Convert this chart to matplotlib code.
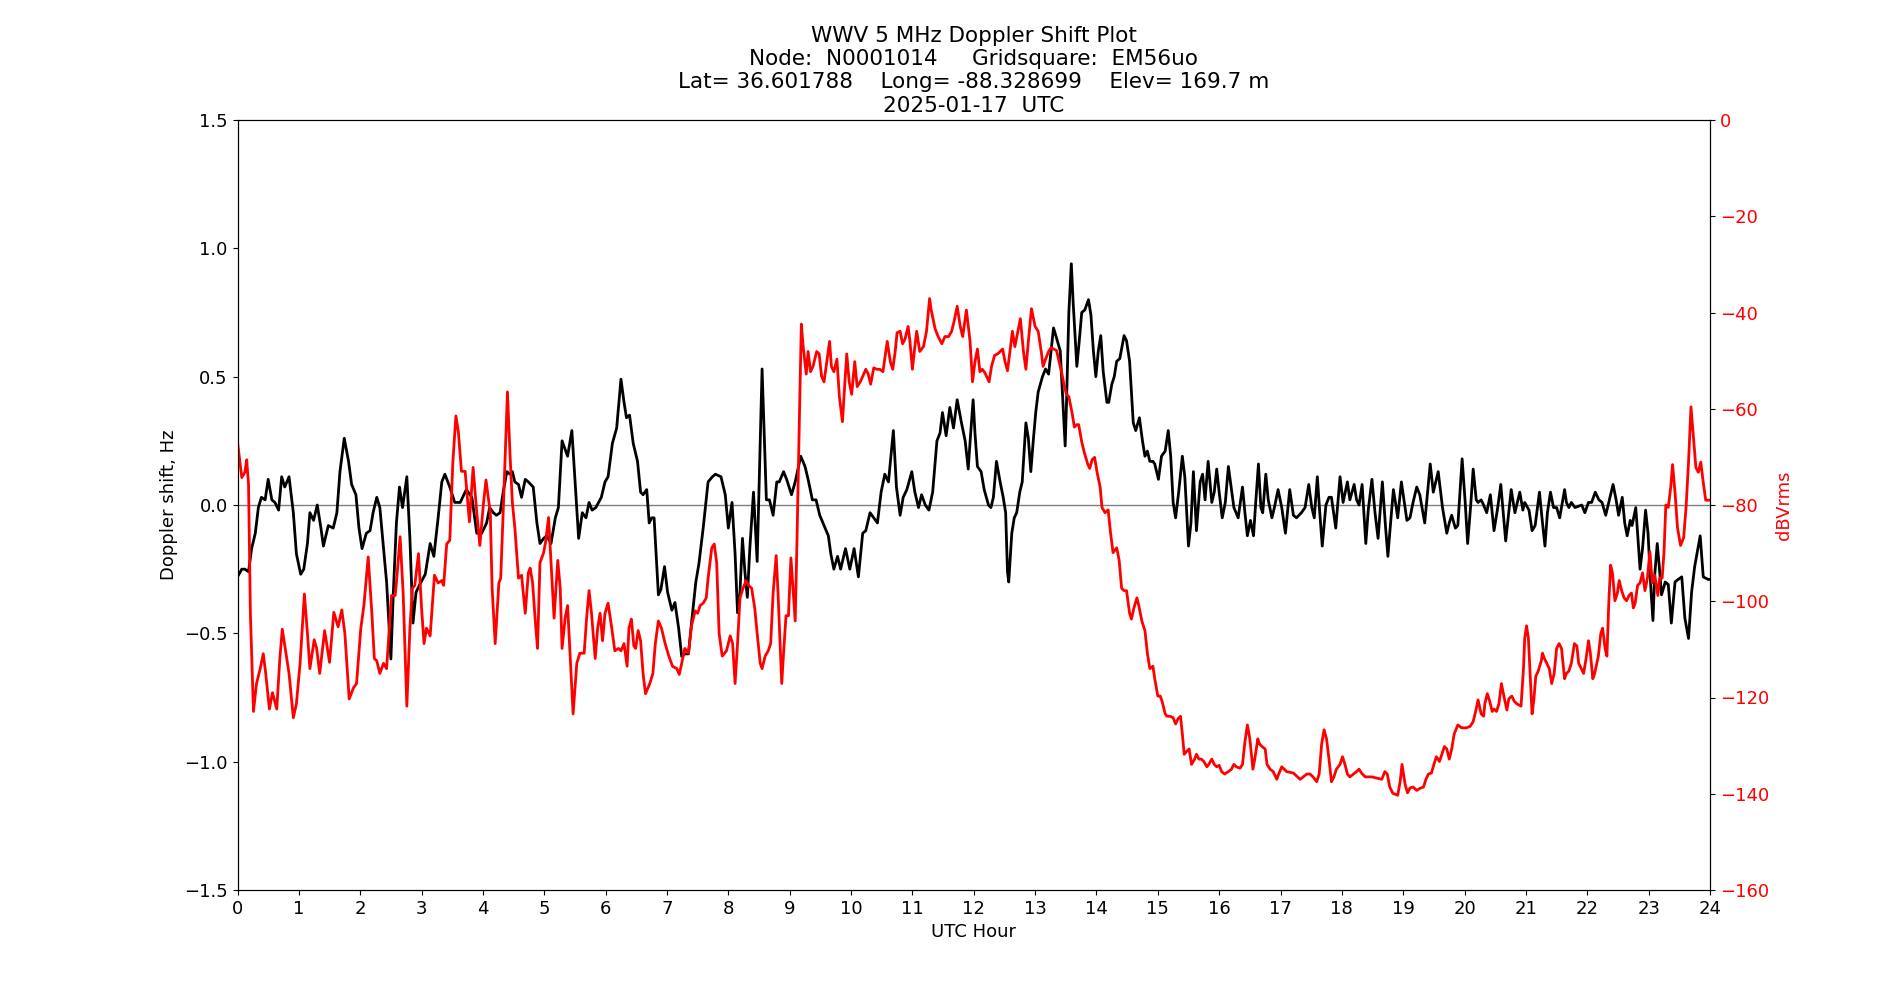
"""
WWV 5 MHz 多普勒频移绘图脚本

左轴为多普勒频移 (Hz)，右轴为接收电平 (dBVrms)
"""
import matplotlib
matplotlib.use('Agg')
import matplotlib.pyplot as plt

plt.rcParams['font.family'] = ['DejaVu Sans']

# 多普勒频移 (黑线)，UTC 小时 / Hz
doppler_hours = [
    0.00, 0.07, 0.12, 0.18, 0.23, 0.29, 0.34, 0.39, 0.45, 0.50, 0.56, 0.61, 0.67, 0.72, 0.77, 0.84,
    0.91, 0.96, 1.03, 1.08, 1.14, 1.18, 1.24, 1.30, 1.36, 1.40, 1.48, 1.56, 1.62, 1.67, 1.74, 1.81,
    1.86, 1.93, 1.98, 2.03, 2.10, 2.16, 2.21, 2.27, 2.32, 2.38, 2.43, 2.50, 2.54, 2.59, 2.64, 2.69,
    2.76, 2.81, 2.86, 2.91, 2.97, 3.06, 3.14, 3.20, 3.27, 3.33, 3.38, 3.46, 3.54, 3.63, 3.73, 3.82,
    3.90, 3.98, 4.06, 4.11, 4.17, 4.22, 4.28, 4.33, 4.39, 4.44, 4.48, 4.52, 4.58, 4.63, 4.69, 4.74,
    4.82, 4.88, 4.93, 4.99, 5.04, 5.11, 5.18, 5.23, 5.29, 5.38, 5.45, 5.56, 5.62, 5.68, 5.73, 5.78,
    5.84, 5.93, 5.99, 6.04, 6.11, 6.18, 6.25, 6.30, 6.34, 6.39, 6.45, 6.52, 6.57, 6.61, 6.67, 6.71,
    6.75, 6.79, 6.86, 6.90, 6.96, 7.01, 7.08, 7.13, 7.19, 7.24, 7.29, 7.35, 7.40, 7.47, 7.52, 7.59,
    7.67, 7.74, 7.79, 7.88, 7.95, 8.00, 8.06, 8.11, 8.15, 8.19, 8.23, 8.27, 8.31, 8.35, 8.41, 8.47,
    8.55, 8.62, 8.67, 8.73, 8.79, 8.83, 8.90, 8.95, 9.03, 9.09, 9.18, 9.25, 9.30, 9.37, 9.43, 9.49,
    9.56, 9.63, 9.67, 9.72, 9.78, 9.83, 9.91, 9.98, 10.05, 10.12, 10.19, 10.24, 10.31, 10.37, 10.43, 10.49,
    10.55, 10.61, 10.69, 10.74, 10.80, 10.85, 10.91, 10.99, 11.04, 11.10, 11.15, 11.21, 11.27, 11.33, 11.40, 11.45,
    11.49, 11.55, 11.61, 11.67, 11.73, 11.80, 11.86, 11.91, 11.95, 11.99, 12.02, 12.06, 12.12, 12.17, 12.24, 12.28,
    12.32, 12.37, 12.43, 12.48, 12.52, 12.55, 12.57, 12.62, 12.66, 12.70, 12.75, 12.79, 12.85, 12.89, 12.93, 12.97,
    13.01, 13.05, 13.12, 13.17, 13.22, 13.26, 13.30, 13.35, 13.41, 13.44, 13.49, 13.51, 13.55, 13.59, 13.62, 13.68,
    13.72, 13.76, 13.81, 13.87, 13.91, 13.95, 13.99, 14.03, 14.07, 14.11, 14.17, 14.20, 14.25, 14.29, 14.33, 14.38,
    14.45, 14.49, 14.54, 14.60, 14.64, 14.70, 14.75, 14.79, 14.83, 14.87, 14.92, 14.95, 15.01, 15.06, 15.12, 15.17,
    15.21, 15.25, 15.29, 15.34, 15.40, 15.44, 15.50, 15.54, 15.58, 15.63, 15.69, 15.73, 15.77, 15.82, 15.88, 15.92,
    15.96, 16.00, 16.05, 16.10, 16.15, 16.19, 16.24, 16.31, 16.38, 16.42, 16.46, 16.51, 16.56, 16.59, 16.64, 16.68,
    16.71, 16.76, 16.80, 16.86, 16.90, 16.96, 17.02, 17.08, 17.15, 17.21, 17.26, 17.34, 17.40, 17.46, 17.51, 17.55,
    17.60, 17.64, 17.68, 17.74, 17.79, 17.83, 17.90, 17.97, 18.02, 18.09, 18.13, 18.20, 18.24, 18.28, 18.33, 18.39,
    18.43, 18.49, 18.54, 18.59, 18.66, 18.71, 18.75, 18.78, 18.84, 18.88, 18.91, 18.97, 19.03, 19.06, 19.11, 19.16,
    19.22, 19.27, 19.35, 19.44, 19.49, 19.57, 19.64, 19.71, 19.75, 19.79, 19.85, 19.89, 19.96, 20.01, 20.05, 20.10,
    20.14, 20.19, 20.22, 20.27, 20.31, 20.36, 20.42, 20.48, 20.54, 20.59, 20.63, 20.67, 20.71, 20.76, 20.82, 20.90,
    20.95, 20.98, 21.05, 21.10, 21.15, 21.22, 21.27, 21.31, 21.35, 21.40, 21.45, 21.50, 21.55, 21.63, 21.66, 21.70,
    21.74, 21.80, 21.91, 21.96, 22.02, 22.07, 22.13, 22.19, 22.24, 22.30, 22.35, 22.42, 22.47, 22.51, 22.57, 22.61,
    22.65, 22.70, 22.73, 22.79, 22.82, 22.86, 22.90, 22.95, 22.99, 23.04, 23.07, 23.10, 23.14, 23.17, 23.21, 23.27,
    23.32, 23.37, 23.43, 23.48, 23.54, 23.59, 23.65, 23.70, 23.75, 23.84, 23.89, 23.97, 24.00,
]
doppler_hz = [
    -0.28, -0.25, -0.25, -0.26, -0.17, -0.11, -0.01, 0.03, 0.02, 0.10, 0.02, 0.01, -0.02, 0.11, 0.07, 0.11,
    -0.03, -0.19, -0.27, -0.25, -0.15, -0.03, -0.06, 0.00, -0.09, -0.16, -0.08, -0.09, -0.03, 0.13, 0.26, 0.17,
    0.08, 0.04, -0.09, -0.17, -0.11, -0.10, -0.03, 0.03, -0.01, -0.17, -0.30, -0.60, -0.34, -0.07, 0.07, -0.01,
    0.11, -0.13, -0.46, -0.34, -0.31, -0.27, -0.15, -0.20, -0.05, 0.09, 0.12, 0.07, 0.01, 0.01, 0.06, 0.03,
    -0.11, -0.11, -0.07, -0.01, -0.03, -0.04, -0.03, 0.05, 0.13, 0.12, 0.13, 0.09, 0.08, 0.03, 0.10, 0.09,
    0.07, -0.07, -0.15, -0.13, -0.12, -0.15, -0.05, -0.01, 0.25, 0.19, 0.29, -0.13, -0.03, -0.05, 0.01, -0.02,
    -0.01, 0.03, 0.09, 0.11, 0.24, 0.30, 0.49, 0.40, 0.34, 0.35, 0.24, 0.17, 0.05, 0.04, 0.06, -0.07,
    -0.05, -0.05, -0.35, -0.33, -0.24, -0.34, -0.41, -0.38, -0.48, -0.59, -0.58, -0.58, -0.46, -0.30, -0.23, -0.09,
    0.09, 0.11, 0.12, 0.11, 0.04, -0.09, 0.01, -0.19, -0.42, -0.34, -0.13, -0.26, -0.36, -0.17, 0.05, -0.22,
    0.53, 0.02, 0.02, -0.04, 0.09, 0.09, 0.13, 0.10, 0.04, 0.09, 0.19, 0.15, 0.10, 0.02, 0.02, -0.04,
    -0.08, -0.12, -0.19, -0.25, -0.20, -0.25, -0.17, -0.25, -0.17, -0.28, -0.11, -0.10, -0.03, -0.05, -0.07, 0.05,
    0.12, 0.09, 0.29, 0.07, -0.04, 0.03, 0.06, 0.13, 0.05, -0.01, 0.04, 0.00, -0.02, 0.05, 0.25, 0.28,
    0.36, 0.27, 0.38, 0.30, 0.41, 0.32, 0.25, 0.14, 0.28, 0.41, 0.28, 0.15, 0.13, 0.06, 0.00, -0.01,
    0.03, 0.17, 0.09, 0.03, -0.03, -0.26, -0.30, -0.11, -0.05, -0.03, 0.05, 0.09, 0.32, 0.26, 0.13, 0.25,
    0.36, 0.44, 0.50, 0.53, 0.51, 0.60, 0.69, 0.65, 0.60, 0.46, 0.23, 0.38, 0.75, 0.94, 0.79, 0.54,
    0.64, 0.75, 0.76, 0.80, 0.74, 0.60, 0.50, 0.60, 0.66, 0.52, 0.40, 0.40, 0.47, 0.50, 0.56, 0.57,
    0.66, 0.64, 0.56, 0.32, 0.29, 0.34, 0.25, 0.19, 0.21, 0.17, 0.17, 0.16, 0.10, 0.19, 0.21, 0.29,
    0.19, 0.01, -0.05, 0.05, 0.19, 0.11, -0.16, -0.07, 0.13, -0.10, 0.09, 0.12, 0.02, 0.17, 0.01, 0.05,
    0.14, 0.05, -0.05, 0.01, 0.15, 0.08, -0.01, -0.05, 0.07, -0.03, -0.12, -0.06, -0.12, -0.01, 0.16, -0.01,
    -0.03, 0.12, 0.02, -0.05, -0.01, 0.06, -0.01, -0.11, 0.06, -0.04, -0.05, -0.03, -0.01, 0.08, -0.01, -0.05,
    0.11, -0.03, -0.16, 0.00, 0.03, 0.03, -0.09, 0.11, 0.01, 0.09, 0.02, 0.08, 0.02, 0.00, 0.08, -0.15,
    -0.02, 0.10, -0.03, -0.13, 0.09, -0.08, -0.20, -0.11, 0.06, 0.00, -0.05, 0.09, -0.01, -0.06, -0.05, 0.01,
    0.07, 0.04, -0.07, 0.16, 0.05, 0.13, -0.01, -0.11, -0.07, -0.04, -0.09, -0.08, 0.18, 0.01, -0.15, 0.00,
    0.14, 0.02, 0.01, 0.02, 0.00, -0.03, 0.04, -0.10, -0.01, 0.08, -0.03, -0.14, -0.05, 0.06, -0.03, 0.05,
    -0.02, 0.01, -0.02, -0.10, -0.08, 0.05, -0.07, -0.16, -0.03, 0.05, -0.01, -0.01, -0.05, 0.06, 0.01, -0.01,
    0.01, -0.01, 0.00, -0.03, 0.01, 0.01, 0.05, 0.02, 0.01, -0.04, 0.01, 0.08, 0.02, -0.04, 0.03, -0.07,
    -0.12, -0.06, -0.08, -0.01, -0.11, -0.25, -0.17, -0.02, -0.11, -0.34, -0.45, -0.27, -0.15, -0.23, -0.35, -0.30,
    -0.31, -0.46, -0.30, -0.29, -0.28, -0.44, -0.52, -0.34, -0.24, -0.12, -0.28, -0.29, -0.29,
]

# 接收电平 (红线)，UTC 小时 / dBVrms
level_hours = [
    0.00, 0.07, 0.12, 0.15, 0.18, 0.21, 0.26, 0.31, 0.37, 0.42, 0.46, 0.52, 0.57, 0.64, 0.69, 0.73,
    0.79, 0.84, 0.91, 0.96, 1.02, 1.09, 1.14, 1.18, 1.25, 1.29, 1.34, 1.42, 1.50, 1.57, 1.64, 1.70,
    1.75, 1.82, 1.89, 1.94, 2.01, 2.06, 2.13, 2.19, 2.23, 2.27, 2.32, 2.38, 2.43, 2.49, 2.51, 2.57,
    2.59, 2.65, 2.70, 2.76, 2.81, 2.85, 2.89, 2.95, 3.00, 3.04, 3.08, 3.14, 3.21, 3.27, 3.33, 3.36,
    3.41, 3.46, 3.51, 3.56, 3.60, 3.65, 3.71, 3.78, 3.84, 3.90, 3.95, 4.01, 4.05, 4.12, 4.15, 4.20,
    4.23, 4.26, 4.29, 4.33, 4.37, 4.40, 4.44, 4.48, 4.52, 4.58, 4.63, 4.69, 4.74, 4.77, 4.81, 4.85,
    4.89, 4.93, 4.99, 5.02, 5.07, 5.11, 5.16, 5.22, 5.26, 5.29, 5.34, 5.38, 5.42, 5.47, 5.53, 5.58,
    5.65, 5.69, 5.73, 5.77, 5.83, 5.87, 5.91, 5.95, 5.99, 6.04, 6.10, 6.15, 6.21, 6.25, 6.30, 6.35,
    6.38, 6.42, 6.46, 6.49, 6.53, 6.57, 6.61, 6.65, 6.72, 6.77, 6.81, 6.86, 6.91, 6.97, 7.03, 7.09,
    7.16, 7.20, 7.24, 7.29, 7.35, 7.40, 7.46, 7.50, 7.54, 7.59, 7.64, 7.67, 7.73, 7.77, 7.81, 7.85,
    7.90, 7.97, 8.03, 8.07, 8.11, 8.15, 8.19, 8.24, 8.29, 8.33, 8.38, 8.43, 8.47, 8.52, 8.55, 8.60,
    8.65, 8.69, 8.73, 8.78, 8.81, 8.87, 8.91, 8.94, 8.98, 9.02, 9.06, 9.09, 9.12, 9.16, 9.19, 9.22,
    9.27, 9.30, 9.34, 9.38, 9.44, 9.48, 9.52, 9.56, 9.60, 9.65, 9.68, 9.72, 9.77, 9.81, 9.86, 9.90,
    9.93, 9.97, 10.01, 10.06, 10.10, 10.15, 10.19, 10.24, 10.28, 10.32, 10.37, 10.42, 10.47, 10.52, 10.59, 10.64,
    10.68, 10.72, 10.75, 10.80, 10.84, 10.88, 10.93, 10.96, 11.00, 11.04, 11.07, 11.12, 11.18, 11.23, 11.28, 11.31,
    11.37, 11.42, 11.48, 11.53, 11.59, 11.64, 11.68, 11.73, 11.78, 11.82, 11.88, 11.94, 11.98, 12.02, 12.06, 12.10,
    12.14, 12.18, 12.25, 12.29, 12.34, 12.39, 12.47, 12.51, 12.55, 12.59, 12.63, 12.67, 12.72, 12.76, 12.81, 12.85,
    12.89, 12.94, 13.00, 13.05, 13.10, 13.13, 13.17, 13.22, 13.26, 13.35, 13.39, 13.43, 13.47, 13.51, 13.55, 13.60,
    13.64, 13.68, 13.71, 13.76, 13.80, 13.86, 13.89, 13.93, 13.97, 14.01, 14.06, 14.09, 14.14, 14.19, 14.23, 14.27,
    14.33, 14.37, 14.41, 14.45, 14.49, 14.54, 14.57, 14.61, 14.66, 14.69, 14.74, 14.79, 14.83, 14.87, 14.92, 14.95,
    15.00, 15.04, 15.07, 15.12, 15.15, 15.20, 15.25, 15.29, 15.33, 15.37, 15.40, 15.43, 15.47, 15.51, 15.55, 15.60,
    15.63, 15.67, 15.71, 15.75, 15.80, 15.83, 15.88, 15.92, 15.96, 16.00, 16.04, 16.09, 16.15, 16.20, 16.24, 16.28,
    16.34, 16.38, 16.42, 16.46, 16.50, 16.55, 16.58, 16.63, 16.66, 16.70, 16.75, 16.78, 16.83, 16.88, 16.94, 16.97,
    17.02, 17.06, 17.10, 17.21, 17.32, 17.37, 17.43, 17.48, 17.53, 17.59, 17.63, 17.67, 17.71, 17.75, 17.79, 17.83,
    17.87, 17.91, 17.97, 18.01, 18.05, 18.09, 18.13, 18.19, 18.24, 18.28, 18.32, 18.38, 18.49, 18.59, 18.65, 18.70,
    18.74, 18.78, 18.83, 18.87, 18.91, 18.95, 18.98, 19.03, 19.07, 19.11, 19.16, 19.22, 19.27, 19.33, 19.37, 19.41,
    19.46, 19.50, 19.54, 19.59, 19.63, 19.67, 19.71, 19.75, 19.79, 19.83, 19.89, 19.95, 20.03, 20.09, 20.14, 20.18,
    20.22, 20.27, 20.31, 20.33, 20.37, 20.41, 20.45, 20.48, 20.52, 20.56, 20.60, 20.65, 20.69, 20.72, 20.77, 20.81,
    20.85, 20.92, 20.96, 20.98, 21.01, 21.04, 21.08, 21.10, 21.13, 21.16, 21.20, 21.25, 21.27, 21.30, 21.34, 21.38,
    21.42, 21.46, 21.50, 21.54, 21.58, 21.63, 21.66, 21.70, 21.74, 21.79, 21.83, 21.86, 21.94, 21.98, 22.02, 22.05,
    22.09, 22.12, 22.18, 22.22, 22.25, 22.29, 22.32, 22.35, 22.38, 22.41, 22.45, 22.49, 22.52, 22.56, 22.60, 22.64,
    22.68, 22.72, 22.75, 22.78, 22.82, 22.86, 22.90, 22.94, 22.98, 23.02, 23.06, 23.10, 23.15, 23.18, 23.22, 23.25,
    23.28, 23.32, 23.36, 23.39, 23.43, 23.47, 23.52, 23.57, 23.61, 23.65, 23.69, 23.73, 23.77, 23.81, 23.85, 23.89,
    23.93, 23.97, 24.00,
]
level_db = [
    -66.9, -74.3, -73.2, -70.6, -75.8, -102.5, -122.9, -117.1, -114.0, -110.9, -115.0, -122.4, -119.0, -122.4, -111.9, -105.8,
    -110.9, -115.0, -124.2, -121.3, -112.9, -98.5, -106.7, -114.0, -108.0, -109.8, -115.0, -106.1, -112.7, -102.3, -105.3, -101.8,
    -106.7, -120.3, -118.0, -117.1, -105.6, -100.9, -90.8, -102.5, -111.9, -112.4, -115.0, -112.9, -114.0, -102.5, -98.8, -98.8,
    -96.2, -86.6, -98.3, -121.8, -105.6, -97.3, -96.7, -90.1, -101.4, -108.8, -105.6, -107.2, -94.6, -96.2, -95.7, -96.7,
    -88.1, -87.3, -71.1, -61.5, -64.8, -73.0, -73.0, -83.5, -72.2, -81.6, -88.4, -79.5, -74.8, -81.6, -97.3, -108.8,
    -102.5, -96.2, -95.2, -81.6, -66.9, -56.5, -69.0, -79.5, -84.7, -95.2, -94.6, -102.5, -94.1, -93.1, -96.2, -103.5,
    -109.8, -92.0, -89.9, -87.8, -82.6, -92.0, -103.5, -91.5, -97.3, -109.8, -103.5, -100.9, -110.8, -123.4, -112.9, -110.8,
    -110.8, -103.5, -97.8, -102.5, -111.9, -105.6, -102.5, -108.2, -102.5, -100.4, -105.6, -110.3, -109.8, -110.3, -108.8, -113.5,
    -105.6, -103.7, -109.3, -109.8, -106.1, -108.2, -115.0, -119.2, -117.1, -115.0, -108.8, -104.1, -105.6, -108.8, -111.4, -113.5,
    -114.0, -115.2, -112.9, -109.8, -110.8, -105.1, -102.0, -102.5, -100.9, -100.4, -99.3, -95.2, -88.9, -88.1, -92.0, -106.7,
    -111.4, -110.3, -107.2, -108.8, -117.1, -108.8, -99.3, -97.3, -95.7, -96.7, -97.3, -101.4, -106.7, -112.9, -114.0, -111.4,
    -110.3, -108.8, -98.3, -90.5, -98.3, -117.1, -108.8, -103.0, -103.0, -91.0, -98.3, -104.1, -86.8, -60.7, -42.4, -47.1,
    -52.8, -48.1, -52.3, -51.2, -48.1, -48.6, -53.3, -54.4, -50.7, -46.0, -51.2, -52.3, -49.7, -57.5, -62.7, -54.4,
    -48.6, -54.4, -57.0, -50.2, -55.4, -54.4, -53.3, -51.8, -52.8, -54.9, -51.5, -51.8, -51.8, -52.3, -46.0, -50.2,
    -51.8, -48.1, -44.2, -43.9, -46.5, -45.5, -42.9, -46.0, -51.8, -47.1, -43.9, -48.1, -47.1, -43.9, -37.1, -39.7,
    -43.4, -45.0, -46.5, -45.0, -45.0, -43.9, -41.8, -38.7, -42.9, -45.0, -39.5, -46.0, -54.4, -50.2, -47.6, -52.3,
    -51.8, -52.5, -54.4, -51.2, -48.9, -48.6, -47.6, -50.2, -52.1, -48.1, -43.9, -47.1, -43.9, -41.3, -48.1, -51.8,
    -46.0, -39.2, -42.9, -43.9, -48.1, -51.2, -49.7, -48.1, -47.3, -47.9, -50.2, -52.3, -54.9, -57.0, -57.5, -60.7,
    -63.8, -63.3, -63.3, -66.9, -69.0, -71.6, -72.4, -70.6, -70.1, -73.2, -76.3, -80.5, -81.6, -81.0, -85.8, -89.9,
    -88.9, -91.5, -97.3, -97.8, -97.8, -102.5, -103.7, -101.4, -99.3, -100.9, -104.1, -106.1, -110.8, -114.0, -113.5, -116.1,
    -119.7, -119.7, -120.8, -123.4, -123.9, -123.9, -124.2, -125.5, -124.4, -123.9, -127.6, -131.8, -131.2, -130.7, -133.9, -132.8,
    -131.8, -132.8, -132.8, -133.3, -134.4, -133.9, -132.8, -133.9, -134.4, -134.1, -135.4, -135.9, -135.4, -134.9, -133.9, -134.4,
    -134.7, -133.9, -129.2, -125.7, -128.6, -134.9, -132.8, -128.6, -129.7, -130.2, -130.7, -133.9, -134.9, -135.4, -137.0, -135.9,
    -134.4, -134.9, -135.4, -135.7, -137.0, -136.5, -135.9, -135.9, -136.5, -137.5, -135.9, -129.7, -126.7, -128.6, -132.8, -137.5,
    -136.5, -134.9, -133.9, -132.3, -133.9, -135.9, -136.5, -135.9, -135.4, -134.9, -135.7, -136.5, -136.5, -136.8, -137.0, -135.4,
    -135.9, -138.6, -139.9, -140.1, -140.3, -137.5, -133.9, -138.0, -139.8, -138.8, -138.6, -139.3, -138.9, -138.6, -137.0, -135.9,
    -135.7, -133.9, -132.3, -133.3, -131.8, -130.2, -130.7, -132.8, -130.7, -127.6, -125.7, -126.3, -126.3, -126.0, -125.0, -122.9,
    -120.5, -123.4, -123.9, -121.3, -119.2, -120.8, -122.9, -122.4, -122.9, -121.3, -117.1, -120.3, -122.6, -120.3, -119.7, -120.8,
    -121.3, -121.8, -114.0, -107.7, -105.1, -107.7, -118.2, -123.4, -120.3, -115.6, -114.5, -112.4, -110.8, -111.9, -112.9, -114.0,
    -117.1, -115.0, -109.8, -108.8, -109.8, -116.1, -115.0, -114.5, -112.9, -108.8, -109.3, -112.9, -115.0, -111.9, -108.2, -110.8,
    -116.1, -115.0, -111.4, -106.7, -105.6, -109.8, -111.4, -100.4, -92.5, -94.1, -99.9, -98.3, -95.7, -97.8, -99.3, -99.9,
    -98.8, -98.3, -101.4, -100.4, -96.7, -96.2, -94.1, -97.8, -95.2, -89.7, -96.2, -94.6, -98.8, -95.2, -95.2, -89.9,
    -80.0, -80.5, -76.3, -71.6, -77.4, -84.7, -88.4, -86.8, -80.5, -71.1, -59.6, -65.9, -72.2, -73.2, -71.1, -75.3,
    -79.0, -79.0, -79.0,
]

title_lines = [
    'WWV 5 MHz Doppler Shift Plot',
    'Node:  N0001014     Gridsquare:  EM56uo',
    'Lat= 36.601788    Long= -88.328699    Elev= 169.7 m',
    '2025-01-17  UTC',
]

fig, ax1 = plt.subplots(figsize=(19, 10), dpi=100)

# 零频移参考线
ax1.axhline(0, color='gray', linewidth=1)
ax1.plot(doppler_hours, doppler_hz, color='black', linewidth=2)
ax1.set_xlim(0, 24)
ax1.set_xticks(range(0, 25))
ax1.set_ylim(-1.5, 1.5)
ax1.set_yticks([-1.5, -1.0, -0.5, 0.0, 0.5, 1.0, 1.5])
ax1.set_xlabel('UTC Hour', fontsize=13)
ax1.set_ylabel('Doppler shift, Hz', fontsize=13)
ax1.tick_params(labelsize=13)
ax1.set_title('\n'.join(title_lines), fontsize=15.5)

# 右轴：接收电平
ax2 = ax1.twinx()
ax2.plot(level_hours, level_db, color='red', linewidth=2)
ax2.set_ylim(-160, 0)
ax2.set_yticks(range(-160, 1, 20))
ax2.set_ylabel('dBVrms', color='red', fontsize=13)
ax2.tick_params(axis='y', labelcolor='red', labelsize=13)

fig.savefig('out.png', dpi=100)
plt.close(fig)
